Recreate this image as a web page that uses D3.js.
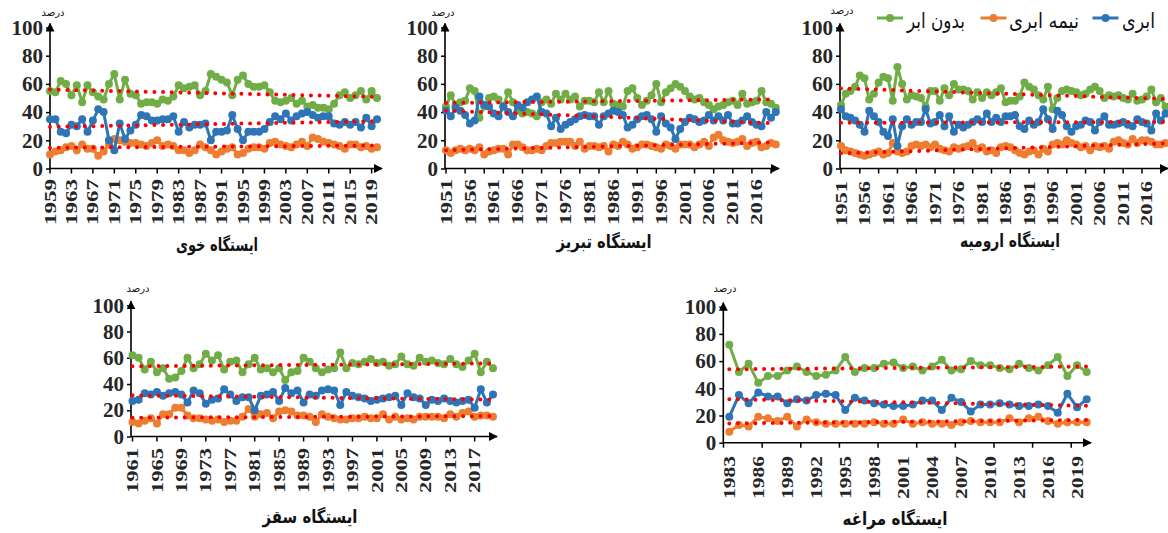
<!DOCTYPE html>
<html>
<head>
<meta charset="utf-8">
<script src="https://cdn.jsdelivr.net/npm/d3@7"></script>
<style>
  body { margin: 0; background: #fff; }
  svg { display: block; }
</style>
</head>
<body>
<svg id="chart" width="1168" height="533"></svg>
<script>
// Annual frequency (%) of clear, partly cloudy and cloudy days at five stations

const seriesNames = ["بدون ابر", "نیمه ابری", "ابری"];
const seriesColors = ["#70AD47", "#ED7D31", "#2E75B6"];
const stationTitles = ["ایستگاه خوی", "ایستگاه تبریز", "ایستگاه ارومیه", "ایستگاه سقز", "ایستگاه مراغه"];
const unitLabel = "درصد";
const yTickValues = [0, 20, 40, 60, 80, 100];

// ---- Khoy 1959–2020
const khoyFirstYear = 1959;
const khoyClear = [55,54,62,60,52,59,47,59,54,51, 49,60,67,49,63,53,52,46,47,47, 46,49,48,51,59,57,58,59,52,55, 67,65,63,61,52,63,66,60,58,58, 59,54,48,47,48,50,46,48,44,45, 43,43,42,46,52,54,50,52,55,49, 55,50];
const khoyPartly = [10,12,13,15,16,13,17,14,14,9, 12,17,21,20,19,18,18,17,16,18, 20,16,17,16,13,13,11,13,17,15, 13,10,12,14,15,10,11,14,15,15, 14,18,19,17,16,15,17,19,16,22, 21,19,18,17,16,14,17,17,15,16, 14,15];
const khoyCloudy = [35,35,26,25,31,30,35,26,34,42, 40,20,13,32,21,27,31,38,37,34, 34,35,35,37,26,33,29,31,31,32, 20,26,26,27,38,28,20,26,26,26, 28,33,37,35,39,34,37,39,40,38, 36,37,37,32,31,33,31,33,29,36, 30,35];
const khoyTrendClear = [56, 50.8];
const khoyTrendPartly = [14.7, 16.3];
const khoyTrendCloudy = [29.5, 33.5];
const khoyYearLabels = [1959,1963,1967,1971,1975,1979,1983,1987,1991,1995,1999,2003,2007,2011,2015,2019];

// ---- Tabriz 1951–2020
const tabrizFirstYear = 1951;
const tabrizClear = [44,52,45,47,48,57,55,36,44,50, 51,49,44,54,47,41,39,40,39,37, 47,49,46,53,49,53,49,51,44,48, 48,47,54,47,55,46,45,44,55,57, 50,45,48,52,60,47,54,57,60,58, 55,51,49,50,47,45,42,44,45,47, 48,45,53,46,47,48,55,47,46,43];
const tabrizPartly = [13,11,13,14,13,14,13,15,10,12, 13,14,14,10,17,17,15,13,13,14, 13,16,18,18,19,19,19,16,19,14, 16,16,15,16,12,17,16,19,17,14, 15,17,17,16,15,14,17,16,14,17, 17,17,15,17,19,16,22,24,20,19, 18,19,21,16,18,19,15,16,18,17];
const tabrizCloudy = [41,37,43,41,38,32,34,51,45,44, 39,37,44,40,37,45,43,47,49,51, 40,39,30,36,28,31,33,35,37,38, 37,37,31,37,39,41,40,38,29,31, 35,37,38,35,26,37,32,29,21,28, 33,36,35,33,34,38,34,37,34,38, 32,32,34,37,33,31,30,40,36,40];
const tabrizTrendClear = [46.5, 49];
const tabrizTrendPartly = [13, 18.5];
const tabrizTrendCloudy = [41, 32];
const tabrizYearLabels = [1951,1956,1961,1966,1971,1976,1981,1986,1991,1996,2001,2006,2011,2016];

// ---- Urmia 1951–2020
const urmiaFirstYear = 1951;
const urmiaClear = [45,53,55,58,66,64,49,53,61,65, 64,48,72,60,49,52,51,50,44,55, 55,48,57,52,60,56,56,55,49,54, 50,54,52,54,57,47,48,48,51,61, 58,56,52,49,58,42,50,55,56,55, 54,52,53,56,58,55,50,52,51,52, 50,49,53,48,49,51,56,47,50,44];
const urmiaPartly = [16,13,12,11,10,9,10,11,12,10, 11,18,12,11,12,16,17,16,17,15, 17,14,13,12,15,14,15,16,18,14, 15,12,13,11,15,16,15,13,11,10, 12,13,10,14,12,17,18,17,20,18, 17,15,16,13,16,15,16,14,19,20, 18,17,21,18,20,20,19,17,17,18];
const urmiaCloudy = [42,37,36,34,31,26,41,37,33,26, 23,35,16,30,35,31,33,33,42,32, 33,38,30,37,26,31,29,31,33,35, 33,39,33,36,33,37,37,38,30,28, 34,31,33,42,35,28,41,38,30,26, 30,31,34,33,27,33,37,31,31,32, 33,31,30,35,33,32,27,39,34,39];
const urmiaTrendClear = [56.8, 49.3];
const urmiaTrendPartly = [10.8, 17.8];
const urmiaTrendCloudy = [32.4, 33];
const urmiaYearLabels = [1951,1956,1961,1966,1971,1976,1981,1986,1991,1996,2001,2006,2011,2016];

// ---- Saqqez 1961–2020
const saqqezFirstYear = 1961;
const saqqezClear = [62,60,51,57,49,52,44,45,50,60, 52,55,63,58,62,51,57,58,49,55, 60,51,52,49,52,43,49,50,60,57, 52,49,51,52,64,52,56,55,57,59, 56,57,54,55,61,55,54,60,57,58, 56,55,59,55,53,58,63,49,57,52];
const saqqezPartly = [11,10,12,14,10,17,17,22,22,16, 14,14,13,12,13,11,12,12,15,21, 15,17,18,14,19,20,19,16,16,15, 11,17,15,14,13,13,14,14,15,14, 14,17,13,15,13,14,13,15,15,15, 15,14,17,15,18,19,15,16,16,15];
const saqqezCloudy = [27,28,33,32,34,31,33,34,32,26, 35,33,25,28,29,36,32,27,30,30, 20,31,32,34,27,37,33,35,26,32, 31,35,36,35,24,34,31,30,29,27, 28,29,30,31,24,33,30,29,24,28, 27,29,27,26,27,28,22,36,26,32];
const saqqezTrendClear = [53.5, 55.7];
const saqqezTrendPartly = [14.3, 15.6];
const saqqezTrendCloudy = [31.4, 28];
const saqqezYearLabels = [1961,1965,1969,1973,1977,1981,1985,1989,1993,1997,2001,2005,2009,2013,2017];

// ---- Maragheh 1983–2020
const maraghehFirstYear = 1983;
const maraghehClear = [72,52,58,44,49,49,53,56,52,49, 50,53,63,52,55,55,58,59,55,56, 53,56,61,53,54,60,57,57,55,54, 58,55,53,57,63,49,57,52];
const maraghehPartly = [8,13,12,19,18,16,19,12,17,15, 14,14,14,14,14,15,14,14,17,14, 15,14,14,13,15,16,15,15,15,18, 15,18,19,16,14,15,15,15];
const maraghehCloudy = [19,35,29,37,34,34,29,32,31,35, 36,35,24,33,31,29,28,27,27,28, 31,31,24,33,30,23,28,28,29,28, 27,27,28,27,22,36,26,32];
const maraghehTrendClear = [54, 56];
const maraghehTrendPartly = [14.2, 16.7];
const maraghehTrendCloudy = [32, 27.2];
const maraghehYearLabels = [1983,1986,1989,1992,1995,1998,2001,2004,2007,2010,2013,2016,2019];

// ---- panel layout (pixel geometry of each small chart)
const panels = [
  { title: stationTitles[0], first: khoyFirstYear, series: [khoyClear, khoyPartly, khoyCloudy],
    trends: [khoyTrendClear, khoyTrendPartly, khoyTrendCloudy], labels: khoyYearLabels,
    tickStart: 1959, tickStep: 4, x0: 50, x1: 377, axisX: 50, xEnd: 382, yBot: 168.5, yTop: 27.5,
    labelTop: 179, labelLen: 46, titleX: 217, titleY: 244, titleLen: 82, unitX: 53, unitY: 12 },
  { title: stationTitles[1], first: tabrizFirstYear, series: [tabrizClear, tabrizPartly, tabrizCloudy],
    trends: [tabrizTrendClear, tabrizTrendPartly, tabrizTrendCloudy], labels: tabrizYearLabels,
    tickStart: 1951, tickStep: 4, x0: 446, x1: 775.8, axisX: 445, xEnd: 779, yBot: 168.5, yTop: 27.5,
    labelTop: 179, labelLen: 46, titleX: 604, titleY: 241, titleLen: 95, unitX: 443, unitY: 12 },
  { title: stationTitles[2], first: urmiaFirstYear, series: [urmiaClear, urmiaPartly, urmiaCloudy],
    trends: [urmiaTrendClear, urmiaTrendPartly, urmiaTrendCloudy], labels: urmiaYearLabels,
    tickStart: 1951, tickStep: 4, x0: 841, x1: 1165.5, axisX: 840, xEnd: 1168, yBot: 168.5, yTop: 27.5,
    labelTop: 181, labelLen: 45, titleX: 1010, titleY: 240, titleLen: 100, unitX: 842, unitY: 10 },
  { title: stationTitles[3], first: saqqezFirstYear, series: [saqqezClear, saqqezPartly, saqqezCloudy],
    trends: [saqqezTrendClear, saqqezTrendPartly, saqqezTrendCloudy], labels: saqqezYearLabels,
    tickStart: 1961, tickStep: 4, x0: 132.5, x1: 493, axisX: 131, xEnd: 497, yBot: 436.5, yTop: 305.3,
    labelTop: 448, labelLen: 45, titleX: 310, titleY: 516, titleLen: 95, unitX: 138, unitY: 288 },
  { title: stationTitles[4], first: maraghehFirstYear, series: [maraghehClear, maraghehPartly, maraghehCloudy],
    trends: [maraghehTrendClear, maraghehTrendPartly, maraghehTrendCloudy], labels: maraghehYearLabels,
    tickStart: 1982.4, tickStep: 4, x0: 729.3, x1: 1086.7, axisX: 723.3, xEnd: 1091, yBot: 442.7, yTop: 306.7,
    labelTop: 456, labelLen: 43, titleX: 895, titleY: 518, titleLen: 105, unitX: 725, unitY: 288 }
];

const svg = d3.select("#chart");
const numFont = "'Liberation Serif', 'Times New Roman', serif";
const faFont = "'DejaVu Sans', sans-serif";

// arrow head used on both axis lines
svg.append("defs").append("marker")
  .attr("id", "arrow")
  .attr("viewBox", "0 0 10 10")
  .attr("refX", 9).attr("refY", 5)
  .attr("markerUnits", "userSpaceOnUse")
  .attr("markerWidth", 9).attr("markerHeight", 9)
  .attr("orient", "auto")
  .append("path").attr("d", "M0,0 L10,5 L0,10 Z").attr("fill", "#000");

panels.forEach(p => {
  const n = p.series[0].length;
  const last = p.first + n - 1;
  const x = d3.scaleLinear().domain([p.first, last]).range([p.x0, p.x1]);
  const y = d3.scaleLinear().domain([0, 100]).range([p.yBot, p.yTop]);
  const g = svg.append("g");

  // y axis with value ticks
  const yAxis = d3.axisLeft(y).tickValues(yTickValues).tickSize(4).tickSizeOuter(0).tickPadding(3);
  const ya = g.append("g").attr("transform", `translate(${p.axisX},0)`).call(yAxis);
  ya.select(".domain").remove();
  ya.selectAll(".tick line").attr("stroke", "#000").attr("stroke-width", 1.5);
  ya.selectAll(".tick text")
    .attr("font-family", numFont).attr("font-weight", "bold").attr("font-size", 21)
    .attr("fill", "#262626");

  g.append("line")
    .attr("x1", p.axisX).attr("y1", p.yBot).attr("x2", p.axisX).attr("y2", y(100) - 4)
    .attr("stroke", "#000").attr("stroke-width", 1.6).attr("marker-end", "url(#arrow)");

  // x axis line and tick marks
  g.append("line")
    .attr("x1", p.axisX).attr("y1", p.yBot).attr("x2", p.xEnd).attr("y2", p.yBot)
    .attr("stroke", "#000").attr("stroke-width", 1.6).attr("marker-end", "url(#arrow)");

  const tickYears = d3.range(p.tickStart, last + 0.5, p.tickStep);
  g.selectAll(".xt").data(tickYears).join("line")
    .attr("x1", d => x(d)).attr("x2", d => x(d))
    .attr("y1", p.yBot).attr("y2", p.yBot + 5)
    .attr("stroke", "#000").attr("stroke-width", 1.5);

  g.selectAll(".xl").data(p.labels).join("text")
    .attr("transform", d => `translate(${x(d)},${p.labelTop}) rotate(-90)`)
    .attr("text-anchor", "end").attr("dy", "0.35em")
    .attr("font-family", numFont).attr("font-weight", "bold").attr("font-size", 16)
    .attr("textLength", p.labelLen).attr("lengthAdjust", "spacingAndGlyphs")
    .attr("fill", "#262626")
    .text(d => d);

  // data series
  p.series.forEach((vals, si) => {
    const line = d3.line().x((d, i) => x(p.first + i)).y(d => y(d));
    g.append("path").datum(vals)
      .attr("d", line).attr("fill", "none")
      .attr("stroke", seriesColors[si]).attr("stroke-width", 3)
      .attr("stroke-linejoin", "round");
    g.selectAll(null).data(vals).join("circle")
      .attr("cx", (d, i) => x(p.first + i)).attr("cy", d => y(d))
      .attr("r", 4).attr("fill", seriesColors[si]);
  });

  // linear trend lines
  p.trends.forEach(t => {
    const tl = d3.line().x(d => x(d[0])).y(d => y(d[1]));
    g.append("path").datum([[p.first, t[0]], [last, t[1]]])
      .attr("d", tl).attr("fill", "none")
      .attr("stroke", "#FF0000").attr("stroke-width", 4)
      .attr("stroke-dasharray", "0 8.7").attr("stroke-linecap", "round");
  });

  // station name and unit
  g.append("text")
    .attr("x", p.titleX).attr("y", p.titleY)
    .attr("text-anchor", "middle").attr("dominant-baseline", "central")
    .attr("font-family", faFont).attr("font-weight", "bold").attr("font-size", 18)
    .attr("textLength", p.titleLen).attr("lengthAdjust", "spacingAndGlyphs")
    .attr("fill", "#111")
    .text(p.title);

  g.append("text")
    .attr("x", p.unitX).attr("y", p.unitY)
    .attr("text-anchor", "middle").attr("dominant-baseline", "central")
    .attr("font-family", faFont).attr("font-size", 10)
    .attr("fill", "#111")
    .text(unitLabel);
});

// legend
const legendItems = [
  { name: seriesNames[0], color: seriesColors[0], mx: 890, tx: 907, len: 58 },
  { name: seriesNames[1], color: seriesColors[1], mx: 993.5, tx: 1009, len: 70 },
  { name: seriesNames[2], color: seriesColors[2], mx: 1105.5, tx: 1122, len: 33 }
];
const lg = svg.append("g");
legendItems.forEach(it => {
  lg.append("line")
    .attr("x1", it.mx - 13).attr("x2", it.mx + 13).attr("y1", 18).attr("y2", 18)
    .attr("stroke", it.color).attr("stroke-width", 3);
  lg.append("circle").attr("cx", it.mx).attr("cy", 18).attr("r", 4).attr("fill", it.color);
  lg.append("text")
    .attr("x", it.tx).attr("y", 21)
    .attr("dominant-baseline", "central")
    .attr("font-family", faFont).attr("font-size", 21)
    .attr("textLength", it.len).attr("lengthAdjust", "spacingAndGlyphs")
    .attr("fill", "#111")
    .text(it.name);
});
</script>
</body>
</html>
